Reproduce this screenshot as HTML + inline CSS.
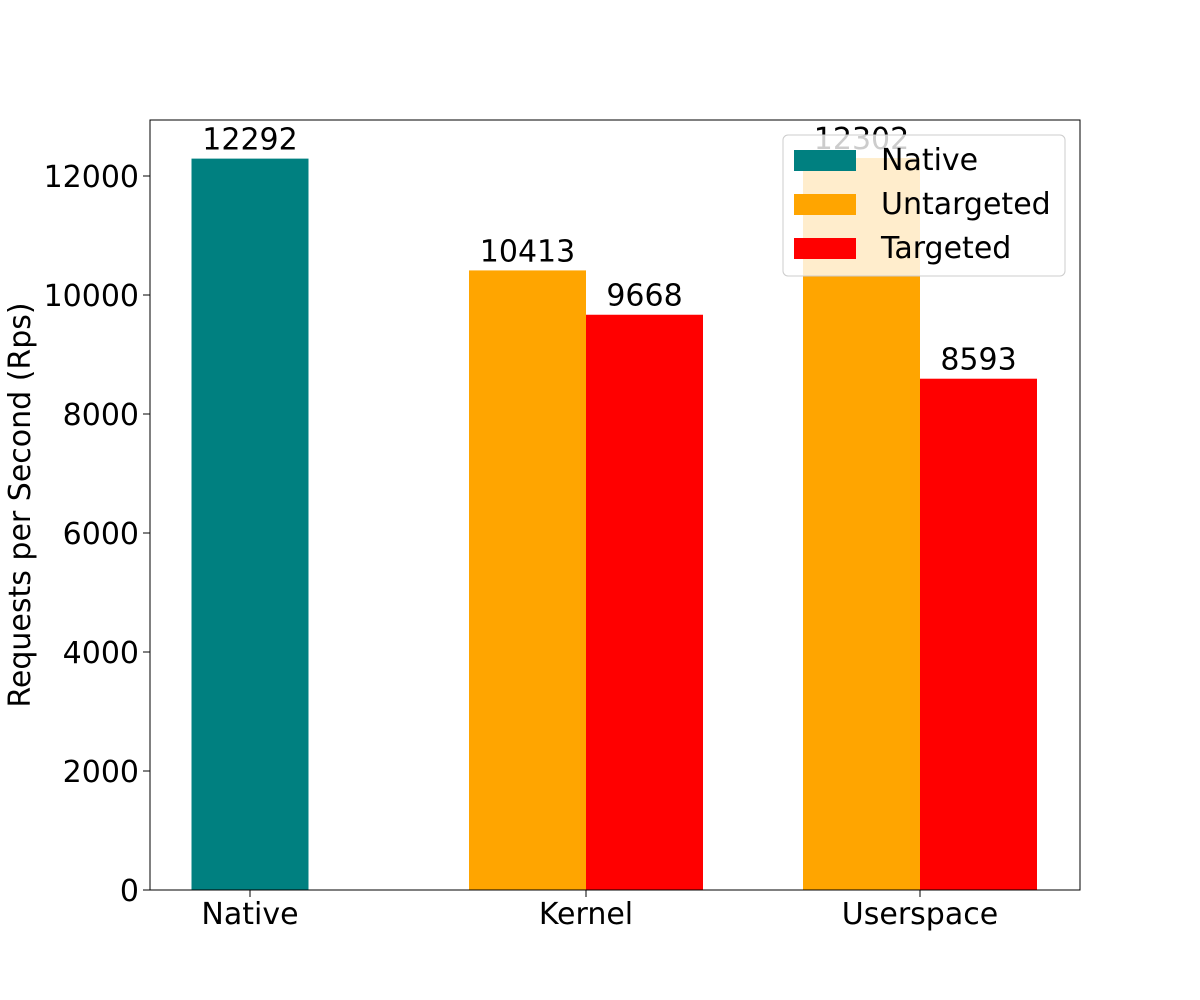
<!DOCTYPE html>
<html><head><meta charset="utf-8"><style>
html,body{margin:0;padding:0;background:#fff;}
svg{display:block;font-family:"DejaVu Sans","Liberation Sans",sans-serif;}
</style></head><body>
<svg id="chart" width="1200" height="1000"></svg>
<script>
const categories = ["Native","Kernel","Userspace"];
const nativeValues = [12292, null, null];
const untargetedValues = [null, 10413, 12302];
const targetedValues = [null, 9668, 8593];
const yTicks = [0,2000,4000,6000,8000,10000,12000];
const seriesNames = ["Native","Untargeted","Targeted"];
const seriesColors = ["#008080","#ffa500","#ff0000"];

const NS="http://www.w3.org/2000/svg";
const svg=document.getElementById('chart');
const L=150,R=1080,T=120,B=890,yMax=12941;
const y=v=>B-(v/yMax)*(B-T);
const centers=[250,586,920];
const x=i=>centers[i];
const bw=117;
const FS=30;
function mk(tag,attrs,parent){const e=document.createElementNS(NS,tag);for(const k in attrs)e.setAttribute(k,attrs[k]);(parent||svg).appendChild(e);return e;}

const series=[nativeValues,untargetedValues,targetedValues];
categories.forEach((c,i)=>{
  const present=series.map((s,k)=>s[i]!=null?k:-1).filter(k=>k>=0);
  const n=present.length;
  present.forEach((k,j)=>{
    const v=series[k][i];
    const left=x(i)-n*bw/2+j*bw;
    const r=mk('rect',{x:left,y:y(v),width:bw,height:B-y(v),fill:seriesColors[k]});
    
    
    const t=mk('text',{x:left+bw/2,y:y(v)-9,'text-anchor':'middle','font-size':FS,fill:'#000'});
    t.textContent=v;
    
    
  });
});

const fr=mk('rect',{x:L,y:T,width:R-L,height:B-T,fill:'none',stroke:'#000','stroke-width':1});



yTicks.forEach(v=>{
  mk('line',{x1:L-7,x2:L,y1:y(v),y2:y(v),stroke:'#000'});
  const t=mk('text',{x:L-11,y:y(v)+11,'text-anchor':'end','font-size':FS});
  t.textContent=v;
  
  
});
categories.forEach((c,i)=>{
  mk('line',{x1:x(i),x2:x(i),y1:B,y2:B+7,stroke:'#000'});
  const t=mk('text',{x:x(i),y:B+34,'text-anchor':'middle','font-size':FS});
  t.textContent=c;
  
  
});
const yl=mk('text',{x:0,y:0,'text-anchor':'middle','font-size':FS,transform:'translate(30,505) rotate(-90)'});
yl.textContent='Requests per Second (Rps)';



const lg=mk('g',{});


mk('rect',{x:783,y:135,width:282,height:141,rx:5,fill:'#fff','fill-opacity':0.8,stroke:'#ccc'},lg);
seriesNames.forEach((s,k)=>{
  const cy=160+k*44;
  const p=mk('rect',{x:794,y:cy-10,width:62,height:21,fill:seriesColors[k]},lg);
  
  
  const t=mk('text',{x:881,y:cy+10,'font-size':FS},lg);
  t.textContent=s;
  
  
});
</script>
</body></html>
